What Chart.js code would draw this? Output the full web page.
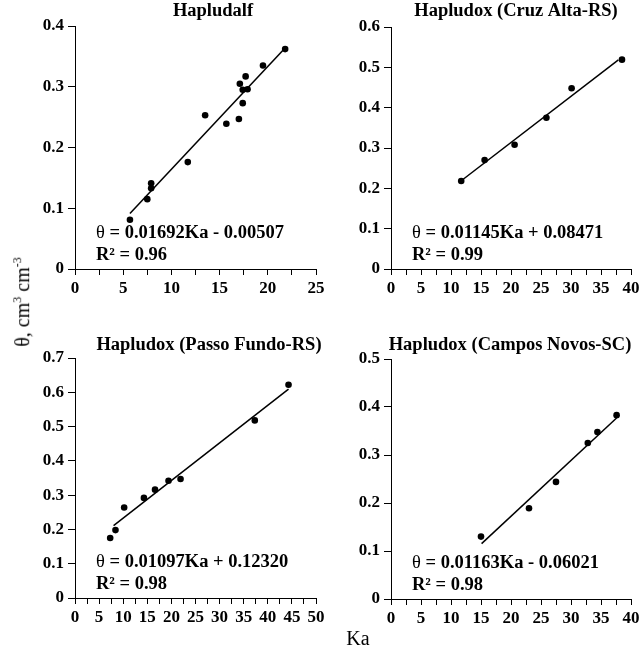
<!DOCTYPE html>
<html>
<head>
<meta charset="utf-8">
<script src="https://cdn.jsdelivr.net/npm/chart.js@4.4.1/dist/chart.umd.min.js"></script>
<style>
  html, body { margin: 0; padding: 0; background: #fff; }
  #wrap { position: relative; width: 640px; height: 649px; font-family: "Liberation Serif", "Times New Roman", serif; color: #000; }
  #wrap canvas { position: absolute; }
  .ylab { position: absolute; left: 22px; top: 302px; transform: translate(-50%, -50%) rotate(-90deg); font-size: 20px; white-space: nowrap; }
  .ylab sup { font-size: 12px; }
  .xlab { position: absolute; left: 358px; top: 638px; transform: translate(-50%, -50%); font-size: 20px; }
</style>
</head>
<body>
<div id="wrap">
  <canvas id="c0"></canvas>
  <canvas id="c1"></canvas>
  <canvas id="c2"></canvas>
  <canvas id="c3"></canvas>
  <div class="ylab">θ, cm<sup>3</sup> cm<sup>-3</sup></div>
  <div class="xlab">Ka</div>
</div>
<script>
// --------------------------
// data
// --------------------------
const titles = ["Hapludalf", "Hapludox (Cruz Alta-RS)", "Hapludox (Passo Fundo-RS)", "Hapludox (Campos Novos-SC)"];

const kaHapludalf    = [5.7, 7.5, 7.9, 7.9, 11.7, 13.5, 15.7, 17.0, 17.4, 17.1, 17.4, 17.9, 17.7, 19.5, 21.8];
const thetaHapludalf = [0.081, 0.115, 0.141, 0.133, 0.176, 0.253, 0.239, 0.247, 0.273, 0.305, 0.295, 0.296, 0.317, 0.335, 0.362];

const kaCruzAlta    = [11.7, 15.6, 20.6, 25.9, 30.1, 38.5];
const thetaCruzAlta = [0.218, 0.270, 0.308, 0.375, 0.448, 0.519];

const kaPassoFundo    = [7.3, 8.4, 10.2, 14.3, 16.6, 19.4, 21.9, 37.3, 44.3];
const thetaPassoFundo = [0.175, 0.198, 0.264, 0.292, 0.316, 0.342, 0.347, 0.518, 0.622];

const kaCamposNovos    = [15.0, 23.0, 27.5, 32.8, 34.4, 37.6];
const thetaCamposNovos = [0.130, 0.189, 0.244, 0.325, 0.348, 0.383];

const kaSeries    = [kaHapludalf, kaCruzAlta, kaPassoFundo, kaCamposNovos];
const thetaSeries = [thetaHapludalf, thetaCruzAlta, thetaPassoFundo, thetaCamposNovos];

// regression θ = a*Ka + b
const slopes     = [0.01692, 0.01145, 0.01097, 0.01163];
const intercepts = [-0.00507, 0.08471, 0.12320, -0.06021];
const rSquared   = [0.96, 0.99, 0.98, 0.98];
const fitFrom    = [5.7, 11.6, 8.0, 15.1];
const fitTo      = [21.6, 37.9, 44.3, 37.6];

const xMax = [25, 40, 50, 40];
const yMax = [0.4, 0.6, 0.7, 0.5];

// --------------------------
// layout (canvas box + plot area inside it)
// --------------------------
const panels = [
  { left: 0,   top: 0,   width: 330, height: 300, area: { l: 75, r: 316, t: 26, b: 269 }, titleX: 213, titleY: 16 },
  { left: 320, top: 0,   width: 320, height: 300, area: { l: 71, r: 311, t: 27, b: 269 }, titleX: 196, titleY: 16 },
  { left: 0,   top: 330, width: 330, height: 300, area: { l: 75, r: 316, t: 28, b: 268 }, titleX: 209, titleY: 20 },
  { left: 320, top: 330, width: 320, height: 300, area: { l: 71, r: 311, t: 29, b: 269 }, titleX: 190, titleY: 20 }
];

const FONT = '"Liberation Serif", "Times New Roman", serif';
const tickFont = { family: FONT, size: 17, weight: "bold" };

function fmtCoef(v) {
  return Math.abs(v).toFixed(5);
}

// titles + equation text
const panelText = {
  id: "panelText",
  afterDraw(chart) {
    const i = chart.options.plugins.panelText.index;
    const p = panels[i];
    const area = chart.chartArea;
    const ctx = chart.ctx;
    ctx.save();
    ctx.fillStyle = "#000";
    ctx.textBaseline = "alphabetic";

    ctx.textAlign = "center";
    ctx.font = `bold 18.5px ${FONT}`;
    ctx.fillText(titles[i], p.titleX, p.titleY);

    ctx.textAlign = "left";
    const x = area.left + 21;
    const y1 = area.bottom - 31;
    const y2 = area.bottom - 9;
    ctx.font = `18.5px ${FONT}`;
    ctx.fillText("θ", x, y1);
    const w = ctx.measureText("θ").width;
    ctx.font = `bold 18.5px ${FONT}`;
    const sign = intercepts[i] < 0 ? "-" : "+";
    ctx.fillText(` = ${fmtCoef(slopes[i])}Ka ${sign} ${fmtCoef(intercepts[i])}`, x + w, y1);
    ctx.fillText(`R² = ${rSquared[i].toFixed(2)}`, x, y2);
    ctx.restore();
  }
};

function isMajor(v) {
  return Math.abs(v / 5 - Math.round(v / 5)) < 1e-6;
}

function createPanel(i) {
  const p = panels[i];
  const canvas = document.getElementById("c" + i);
  canvas.width = p.width;
  canvas.height = p.height;
  canvas.style.left = p.left + "px";
  canvas.style.top = p.top + "px";
  canvas.style.width = p.width + "px";
  canvas.style.height = p.height + "px";

  const points = kaSeries[i].map((ka, k) => ({ x: ka, y: thetaSeries[i][k] }));
  const fit = [fitFrom[i], fitTo[i]].map(ka => ({ x: ka, y: slopes[i] * ka + intercepts[i] }));

  return new Chart(canvas.getContext("2d"), {
    type: "scatter",
    data: {
      datasets: [
        {
          data: points,
          pointRadius: 3.3,
          pointBackgroundColor: "#000",
          pointBorderWidth: 0
        },
        {
          type: "line",
          data: fit,
          showLine: true,
          pointRadius: 0,
          borderColor: "#000",
          borderWidth: 1.5,
          fill: false
        }
      ]
    },
    options: {
      responsive: false,
      animation: false,
      layout: { padding: { left: 0, top: p.area.t, right: p.width - p.area.r, bottom: 0 } },
      plugins: {
        legend: { display: false },
        tooltip: { enabled: false },
        panelText: { index: i }
      },
      scales: {
        x: {
          type: "linear",
          min: 0,
          max: xMax[i],
          grid: { drawOnChartArea: false, drawTicks: true, tickLength: 6, color: "#000" },
          border: { color: "#000", width: 1 },
          ticks: {
            stepSize: 2.5,
            autoSkip: false,
            maxRotation: 0,
            padding: 3,
            color: "#000",
            font: tickFont,
            callback: v => (isMajor(v) ? String(Math.round(v)) : "")
          },
          afterFit: s => {
            s.height = p.height - p.area.b;
            s.paddingLeft = 0;
            s.paddingRight = 0;
          }
        },
        y: {
          type: "linear",
          min: 0,
          max: yMax[i],
          grid: { drawOnChartArea: false, drawTicks: true, tickLength: 7, color: "#000" },
          border: { color: "#000", width: 1 },
          ticks: {
            stepSize: 0.1,
            padding: 4,
            color: "#000",
            font: tickFont,
            callback: v => (Math.abs(v) < 1e-9 ? "0" : v.toFixed(1))
          },
          afterFit: s => {
            s.width = p.area.l;
            s.paddingTop = 0;
            s.paddingBottom = 0;
          }
        }
      }
    },
    plugins: [panelText]
  });
}

panels.forEach((p, i) => createPanel(i));
</script>
</body>
</html>
